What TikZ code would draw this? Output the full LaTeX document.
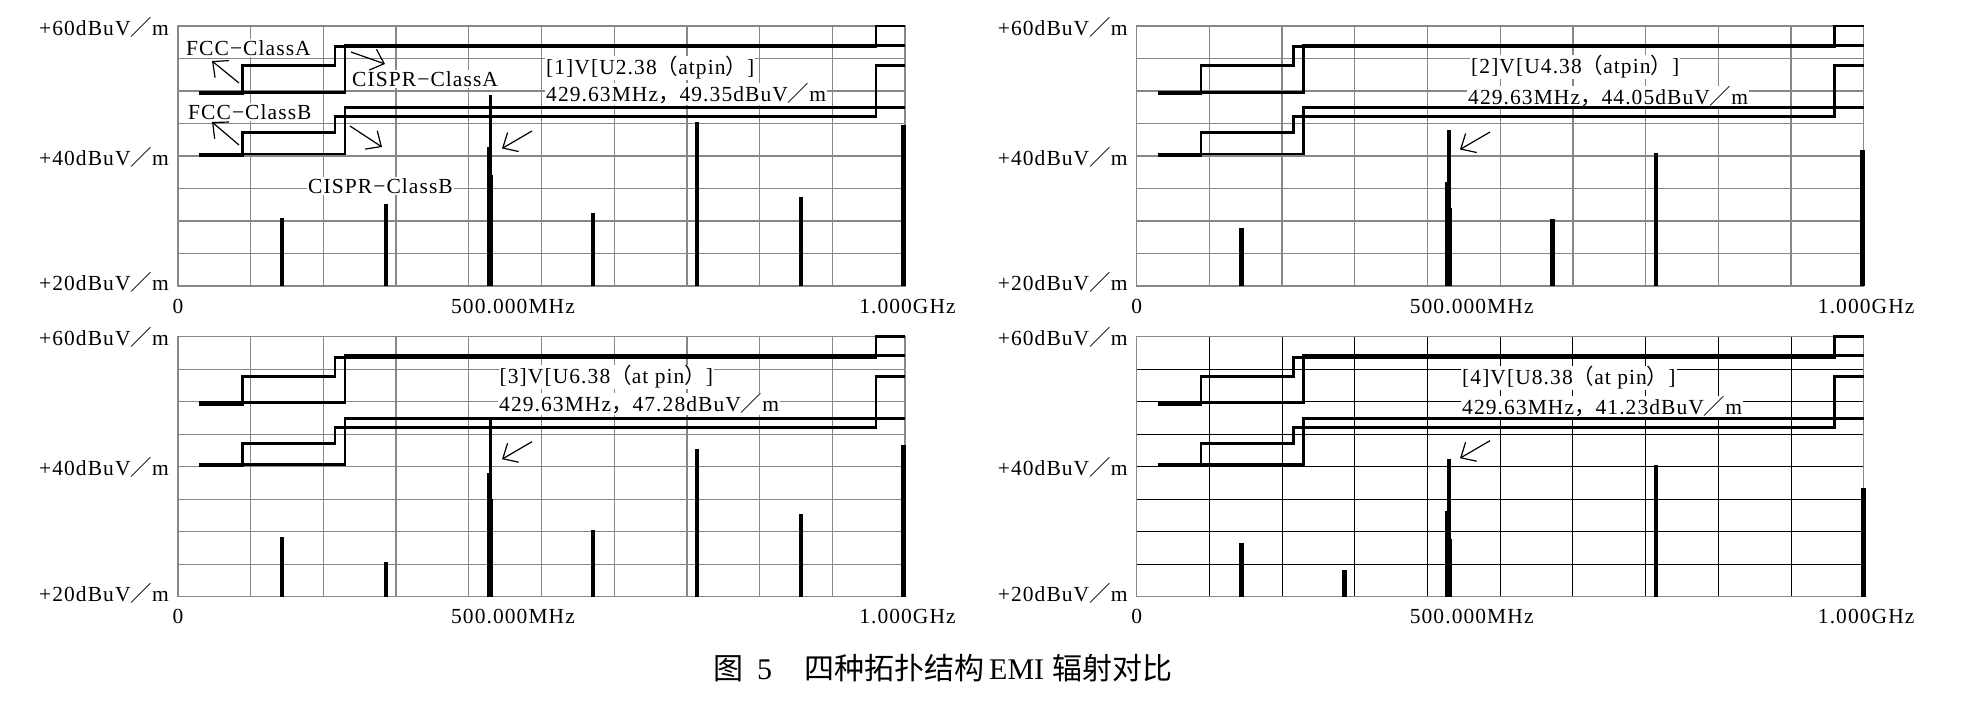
\documentclass[tikz,border=0pt]{standalone}
\usepackage{fontspec}
\setmainfont{Liberation Serif}
\newfontfamily\plotfont[LetterSpace=5]{Liberation Serif}
\newfontfamily\cjk{Noto Sans CJK SC}
\usetikzlibrary{arrows.meta}

\definecolor{gridgray}{RGB}{135,135,135}

\tikzset{
  limitline/.style={black, line width=2.8pt},
  specbar/.style={black, line width=4.6pt},
  pointer/.style={black, line width=1.2pt, -{Straight Barb[length=12pt,width=22pt]}},
  axislabel/.style={inner sep=0pt, font=\plotfont\fontsize{21.5}{24}\selectfont},
  tag/.style={fill=white, inner sep=1pt, anchor=west, font=\plotfont\fontsize{21.5}{24}\selectfont}
}

\newcommand{\fw}[1]{{\cjk #1}}
\newcommand{\unitlbl}{dBuV\fw{／}m}
\newcommand{\peakbar}[3]{%
  \draw[specbar, line width=3.4pt] (429.6,0) -- (429.6,#1-20);
  \draw[specbar, line width=3.4pt] (426.8,0) -- (426.8,#2-20);
  \draw[specbar, line width=3.4pt] (431.6,0) -- (431.6,#3-20);}

\begin{document}
\begin{tikzpicture}[x=1pt,y=-1pt]
\useasboundingbox (0,0) rectangle (1961,709);

% grids and axis texts
\foreach \px/\py/\gc/\gw [count=\n] in {178/286/gridgray/1.3, 1136.7/286/gridgray/1.3, 178/596.7/gridgray/1.3, 1136.7/596.7/black/1} {
 \begin{scope}[shift={(\px,\py)}, x=0.727pt, y=6.5pt]
  \foreach \f in {100,200,...,900} {
   \draw[\gc, line width=\gw pt] (\f,0) --++(0,40);
  }
  \foreach \d in {5,10,...,35} {
   \draw[\gc, line width=\gw pt] (0,\d) --++(1000,0);
  }
  \draw[gridgray, line width=1.3pt] (0,0) rectangle (1000,40);
 \end{scope}
 \node[axislabel, anchor=east] (top\n) at ({\px-9},{\py-259}) {+60\unitlbl};
 \node[axislabel, anchor=east] (mid\n) at ({\px-9},{\py-129}) {+40\unitlbl};
 \node[axislabel, anchor=east] (low\n) at ({\px-9},{\py-3.5}) {+20\unitlbl};
 \node[axislabel] (zero\n) at (\px,{\py+20}) {0};
 \node[axislabel] (half\n) at ({\px+335},{\py+20}) {500.000MHz};
 \node[axislabel] (full\n) at ({\px+729.5},{\py+20}) {1.000GHz};
}

% limit names and markers
\node[tag] (fccA) at (185,48) {FCC−ClassA};
\node[tag] (cisprA) at (351,79) {CISPR−ClassA};
\node[tag] (fccB) at (187,112) {FCC−ClassB};
\node[tag] (cisprB) at (307,186) {CISPR−ClassB};
\node[tag] (probe1) at (545,68) {[1]V[U2.38\fw{（}atpin\fw{）}]};
\node[tag] (read1) at (545,94) {429.63MHz\fw{，}49.35\unitlbl};
\node[tag] (probe2) at (1470,67) {[2]V[U4.38\fw{（}atpin\fw{）}]};
\node[tag] (read2) at (1467,97) {429.63MHz\fw{，}44.05\unitlbl};
\node[tag] (probe3) at (498.5,377) {[3]V[U6.38\fw{（}at pin\fw{）}]};
\node[tag] (read3) at (498,404) {429.63MHz\fw{，}47.28\unitlbl};
\node[tag] (probe4) at (1461,378) {[4]V[U8.38\fw{（}at pin\fw{）}]};
\node[tag] (read4) at (1461,407) {429.63MHz\fw{，}41.23\unitlbl};

% FCC / CISPR limit lines
\foreach \px/\py in {178/286, 1136.7/286, 178/596.7, 1136.7/596.7} {
 \begin{scope}[shift={(\px,\py)}, x=0.727pt, y=6.5pt]
  \draw[limitline] (29.3,29.62) -- (88.5,29.62) -- (88.5,33.9) -- (216,33.9) -- (216,36.8) -- (960,36.8) -- (960,40) -- (1000,40);
  \draw[limitline] (29.3,29.82) -- (229.7,29.82) -- (229.7,37.05) -- (1000,37.05);
  \draw[limitline] (29.3,20.1) -- (88.5,20.1) -- (88.5,23.6) -- (216,23.6) -- (216,26.05) -- (960,26.05) -- (960,33.9) -- (1000,33.9);
  \draw[limitline] (29.3,20.3) -- (229.7,20.3) -- (229.7,27.43) -- (1000,27.43);
 \end{scope}
}

% spectra
\begin{scope}[shift={(178,286)}, x=0.727pt, y=6.5pt]
 \foreach \f/\h in {143/30.5, 286/32.6, 571/31.2, 714/45.2, 857/33.7, 998/44.7} {
  \draw[specbar] (\f,0) -- (\f,\h-20);
 }
 \peakbar{49.35}{41.4}{37.1}
\end{scope}
\begin{scope}[shift={(1136.7,286)}, x=0.727pt, y=6.5pt]
 \foreach \f/\h in {144/29, 572/30.3, 714/40.5, 998/41} {
  \draw[specbar] (\f,0) -- (\f,\h-20);
 }
 \peakbar{44.05}{36}{32}
\end{scope}
\begin{scope}[shift={(178,596.7)}, x=0.727pt, y=6.5pt]
 \foreach \f/\h in {143/29.2, 286/25.4, 571/30.3, 714/42.8, 857/32.8, 998/43.3} {
  \draw[specbar] (\f,0) -- (\f,\h-20);
 }
 \peakbar{47.28}{39.1}{35}
\end{scope}
\begin{scope}[shift={(1136.7,596.7)}, x=0.727pt, y=6.5pt]
 \foreach \f/\h in {144/28.2, 286/24.1, 714/40.2, 1000/36.8} {
  \draw[specbar] (\f,0) -- (\f,\h-20);
 }
 \peakbar{41.23}{33.2}{28.9}
\end{scope}

% pointers
\coordinate (fccAfrom) at (239,83);
\coordinate (fccAto) at (212,61);
\coordinate (cisprAfrom) at (351,52);
\coordinate (cisprAto) at (385,64);
\coordinate (fccBfrom) at (239,145);
\coordinate (fccBto) at (212,122);
\coordinate (cisprBfrom) at (350,126);
\coordinate (cisprBto) at (382,147);
\draw[pointer] (fccAfrom) -- (fccAto);
\draw[pointer] (cisprAfrom) -- (cisprAto);
\draw[pointer] (fccBfrom) -- (fccBto);
\draw[pointer] (cisprBfrom) -- (cisprBto);
\foreach \ax/\ay [count=\n] in {532/131, 1490/132, 532/441.7, 1490/440.7} {
 \coordinate (peakfrom\n) at (\ax,\ay);
 \coordinate (peakto\n) at ({\ax-30},{\ay+17.5});
 \draw[pointer] (peakfrom\n) -- (peakto\n);
}

\node[anchor=west, inner sep=0pt, font=\fontsize{30}{33}\selectfont] (caption) at (713,668)
 {{\cjk 图}\hspace{14pt}5\hspace{32pt}{\cjk 四种拓扑结构}\hspace{5pt}EMI\hspace{8pt}{\cjk 辐射对比}};
\end{tikzpicture}
\end{document}
